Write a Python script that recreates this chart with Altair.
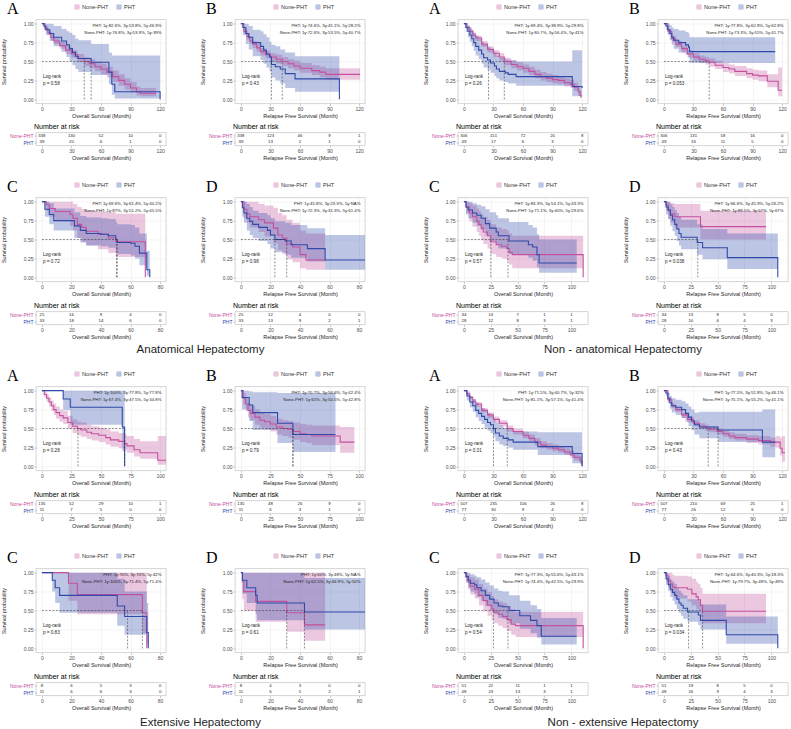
import altair as alt
import pandas as pd

FONT = "Liberation Sans"
SERIF = "Liberation Serif"
PINK = "#c4509e"
BLUE = "#2f4aa9"
TXT = "#1e1e1e"
GRID = "#e9e9e9"
BORDER = "#b8b8b8"
GROUPS = ["None-PHT", "PHT"]

# ---------------- survival curves: (month, survival, lower CI, upper CI) ----------------
# Anatomical Hepatectomy
Q1A_NON = [(0,1,1,1),(3,0.94,0.91,0.97),(6,0.88,0.85,0.92),(9,0.82,0.78,0.86),(12,0.77,0.73,0.81),(18,0.71,0.67,0.76),
           (24,0.65,0.60,0.70),(30,0.60,0.55,0.65),(36,0.54,0.49,0.60),(43,0.50,0.44,0.56),(48,0.47,0.41,0.53),(54,0.43,0.37,0.50),
           (60,0.40,0.33,0.47),(66,0.36,0.29,0.43),(72,0.30,0.23,0.38),(78,0.25,0.18,0.33),(84,0.20,0.13,0.28),(90,0.15,0.09,0.23),
           (96,0.10,0.05,0.17),(100,0.08,0.04,0.15),(116,0.08,0.04,0.15)]
Q1A_PHT = [(0,1,1,1),(2,0.97,0.92,1),(4,0.92,0.85,1),(8,0.87,0.77,1),(12,0.82,0.70,0.97),(20,0.77,0.63,0.93),(25,0.72,0.56,0.90),
           (28,0.67,0.50,0.88),(31,0.62,0.45,0.85),(34,0.57,0.40,0.80),(37,0.54,0.36,0.78),(50,0.49,0.32,0.73),(68,0.36,0.20,0.62),
           (71,0.20,0.06,0.58),(74,0.10,0.01,0.58),(120,0.0,0.01,0.58)]
Q1B_NON = [(0,1,1,1),(3,0.90,0.87,0.93),(6,0.83,0.79,0.87),(9,0.77,0.73,0.81),(12,0.73,0.68,0.77),(16,0.68,0.63,0.73),
           (20,0.63,0.58,0.68),(25,0.59,0.54,0.64),(30,0.56,0.50,0.61),(36,0.53,0.47,0.59),(42,0.50,0.44,0.56),(48,0.47,0.41,0.53),
           (54,0.44,0.38,0.51),(60,0.41,0.35,0.48),(72,0.38,0.32,0.45),(80,0.36,0.29,0.43),(86,0.33,0.26,0.41),(121,0.33,0.26,0.41)]
Q1B_PHT = [(0,1,1,1),(2,0.95,0.85,1),(5,0.87,0.73,1),(8,0.82,0.66,0.97),(12,0.75,0.57,0.92),(20,0.70,0.52,0.90),(23,0.65,0.47,0.86),
           (26,0.60,0.42,0.82),(29,0.56,0.37,0.76),(31,0.46,0.29,0.72),(35,0.43,0.25,0.70),(40,0.40,0.21,0.66),(45,0.34,0.15,0.62),
           (55,0.27,0.10,0.57),(100,0.0,0.10,0.57)]
Q1C_NON = [(0,1,1,1),(3,0.96,0.88,1),(5,0.91,0.80,1),(9,0.87,0.74,1),(19,0.83,0.68,1),(21,0.78,0.62,0.97),(24,0.70,0.52,0.93),
           (27,0.66,0.47,0.90),(30,0.61,0.42,0.88),(38,0.57,0.37,0.87),(45,0.52,0.32,0.86),(50,0.47,0.27,0.84),(70,0.0,0.27,0.84)]
Q1C_PHT = [(0,1,1,1),(2,0.90,0.80,1),(5,0.83,0.70,0.98),(8,0.75,0.62,0.91),(22,0.68,0.52,0.86),(26,0.62,0.46,0.81),(30,0.58,0.42,0.79),
           (40,0.57,0.41,0.78),(45,0.55,0.39,0.77),(50,0.50,0.34,0.73),(51,0.46,0.31,0.70),(60,0.45,0.29,0.69),(63,0.41,0.25,0.66),
           (66,0.32,0.16,0.58),(71,0.10,0.02,0.35),(73,0.0,0.02,0.35)]
Q1D_NON = [(0,1,1,1),(2,0.90,0.78,1),(4,0.84,0.72,1),(6,0.80,0.66,1),(12,0.76,0.60,0.97),(16,0.72,0.54,0.95),(22,0.65,0.45,0.92),
           (25,0.56,0.36,0.85),(28,0.52,0.31,0.82),(31,0.44,0.24,0.76),(35,0.40,0.20,0.72),(40,0.30,0.12,0.62),(44,0.23,0.10,0.58),
           (57,0.23,0.10,0.58)]
Q1D_PHT = [(0,1,1,1),(1,0.92,0.80,1),(2,0.85,0.72,1),(4,0.78,0.62,0.97),(6,0.74,0.56,0.93),(8,0.70,0.52,0.88),(12,0.66,0.48,0.85),
           (18,0.62,0.44,0.82),(20,0.56,0.38,0.78),(23,0.50,0.33,0.74),(30,0.48,0.30,0.72),(34,0.43,0.26,0.69),(45,0.38,0.21,0.65),
           (57,0.23,0.10,0.56),(84,0.23,0.10,0.56)]
# Non - anatomical Hepatectomy
Q2A_NON = [(0,1,1,1),(3,0.95,0.93,0.97),(6,0.90,0.87,0.93),(9,0.85,0.82,0.88),(12,0.81,0.77,0.84),(18,0.73,0.69,0.77),
           (24,0.66,0.62,0.70),(30,0.61,0.56,0.65),(36,0.56,0.51,0.61),(41,0.50,0.45,0.55),(48,0.46,0.41,0.51),(54,0.43,0.38,0.49),
           (60,0.41,0.35,0.46),(66,0.37,0.32,0.43),(72,0.33,0.28,0.39),(78,0.30,0.25,0.36),(84,0.28,0.23,0.34),(90,0.26,0.21,0.32),
           (96,0.25,0.20,0.31),(102,0.22,0.17,0.28),(108,0.20,0.15,0.26),(112,0.16,0.11,0.22),(116,0.10,0.05,0.17),
           (118,0.05,0.02,0.12),(119,0.02,0.0,0.08)]
Q2A_PHT = [(0,1,1,1),(2,0.95,0.89,1),(4,0.90,0.82,0.98),(6,0.85,0.76,0.95),(8,0.80,0.70,0.91),(10,0.75,0.64,0.88),(12,0.70,0.58,0.84),
           (15,0.65,0.53,0.80),(18,0.60,0.47,0.76),(20,0.55,0.42,0.72),(24,0.52,0.39,0.69),(27,0.48,0.35,0.66),(31,0.44,0.31,0.62),
           (33,0.40,0.28,0.58),(36,0.37,0.25,0.55),(42,0.35,0.23,0.53),(45,0.33,0.21,0.52),(53,0.30,0.18,0.50),(110,0.17,0.04,0.65),
           (120,0.15,0.03,0.65)]
Q2B_NON = [(0,1,1,1),(4,0.90,0.87,0.93),(8,0.80,0.76,0.84),(12,0.73,0.69,0.77),(18,0.67,0.62,0.71),(24,0.60,0.55,0.65),
           (30,0.56,0.51,0.61),(36,0.53,0.48,0.58),(42,0.51,0.46,0.56),(46,0.49,0.43,0.54),(52,0.45,0.40,0.51),(60,0.42,0.36,0.48),
           (66,0.40,0.34,0.46),(72,0.37,0.31,0.44),(84,0.34,0.28,0.41),(90,0.32,0.26,0.39),(96,0.31,0.24,0.38),(105,0.24,0.16,0.33),
           (116,0.12,0.04,0.42),(120,0.12,0.04,0.42)]
Q2B_PHT = [(0,1,1,1),(2,0.97,0.92,1),(4,0.92,0.85,1),(6,0.87,0.78,0.98),(8,0.82,0.72,0.95),(10,0.78,0.67,0.93),(15,0.75,0.62,0.91),
           (22,0.72,0.59,0.89),(25,0.69,0.56,0.87),(26,0.63,0.48,0.82),(113,0.63,0.48,0.82)]
Q2C_NON = [(0,1,1,1),(2,0.93,0.85,1),(5,0.85,0.74,0.98),(8,0.80,0.67,0.95),(12,0.74,0.60,0.91),(14,0.70,0.55,0.88),(16,0.65,0.49,0.84),
           (18,0.60,0.44,0.80),(22,0.55,0.38,0.76),(25,0.47,0.31,0.70),(30,0.43,0.27,0.66),(35,0.41,0.25,0.64),(40,0.38,0.22,0.62),
           (42,0.33,0.17,0.58),(45,0.30,0.12,0.55),(111,0.0,0.12,0.55)]
Q2C_PHT = [(0,1,1,1),(2,0.93,0.83,1),(4,0.89,0.78,1),(8,0.85,0.72,0.98),(12,0.82,0.68,0.96),(16,0.78,0.63,0.94),(20,0.71,0.55,0.90),
           (24,0.65,0.48,0.86),(30,0.60,0.43,0.82),(32,0.55,0.38,0.78),(42,0.48,0.31,0.73),(60,0.43,0.26,0.69),(64,0.40,0.22,0.66),
           (68,0.30,0.13,0.57),(70,0.19,0.06,0.50),(105,0.19,0.06,0.50)]
Q2D_NON = [(0,1,1,1),(2,0.96,0.88,1),(4,0.88,0.77,1),(6,0.84,0.72,0.98),(10,0.80,0.66,0.97),(34,0.67,0.50,0.88),(95,0.67,0.50,0.88)]
Q2D_PHT = [(0,1,1,1),(2,0.93,0.83,1),(4,0.89,0.77,1),(6,0.82,0.68,0.97),(8,0.76,0.61,0.93),(10,0.70,0.55,0.89),(12,0.64,0.48,0.85),
           (14,0.58,0.42,0.80),(16,0.53,0.37,0.76),(31,0.46,0.30,0.70),(36,0.39,0.24,0.64),(59,0.26,0.11,0.58),(106,0.0,0.11,0.58)]
# Extensive Hepatectomy
Q3A_NON = [(0,1,1,1),(2,0.95,0.91,0.99),(4,0.90,0.85,0.95),(6,0.85,0.79,0.91),(8,0.80,0.73,0.87),(10,0.75,0.68,0.83),(12,0.71,0.63,0.79),
           (15,0.67,0.59,0.75),(18,0.64,0.56,0.73),(22,0.58,0.50,0.67),(26,0.53,0.44,0.62),(30,0.50,0.41,0.59),(33,0.48,0.39,0.58),
           (38,0.45,0.36,0.55),(42,0.43,0.34,0.53),(48,0.41,0.32,0.51),(54,0.38,0.29,0.49),(58,0.35,0.26,0.46),(65,0.33,0.24,0.44),
           (70,0.30,0.21,0.42),(72,0.27,0.18,0.40),(78,0.22,0.13,0.36),(83,0.18,0.10,0.33),(98,0.08,0.02,0.40),(105,0.08,0.02,0.40)]
Q3A_PHT = [(0,1,1,1),(18,0.89,0.74,1),(24,0.78,0.55,1),(68,0.52,0.20,1),(70,0.0,0.20,1)]
Q3B_NON = [(0,1,1,1),(2,0.90,0.82,0.97),(4,0.82,0.73,0.90),(6,0.74,0.65,0.84),(8,0.70,0.61,0.80),(12,0.65,0.55,0.75),(16,0.61,0.51,0.71),
           (20,0.59,0.49,0.69),(25,0.56,0.46,0.67),(30,0.52,0.42,0.63),(35,0.50,0.40,0.61),(40,0.49,0.38,0.60),(44,0.46,0.35,0.58),
           (50,0.43,0.32,0.56),(55,0.42,0.31,0.55),(60,0.40,0.28,0.54),(84,0.32,0.18,0.52),(96,0.32,0.18,0.52)]
Q3B_PHT = [(0,1,1,1),(1,0.91,0.75,1),(7,0.81,0.60,0.99),(10,0.71,0.48,0.98),(31,0.57,0.31,0.97),(44,0.42,0.19,0.97),(80,0.42,0.19,0.97)]
Q3C_NON = [(0,1,1,1),(18,0.86,0.63,1),(24,0.71,0.45,1),(68,0.47,0.20,1),(71,0.0,0.20,1)]
Q3C_PHT = [(0,1,1,1),(7,0.90,0.75,1),(9,0.80,0.60,1),(12,0.70,0.47,1),(51,0.56,0.30,0.92),(56,0.42,0.18,0.75),(71,0.21,0.05,0.60),
           (72,0.0,0.05,0.60)]
Q3D_NON = [(0,1,1,1),(1,0.88,0.65,1),(2,0.75,0.50,1),(10,0.62,0.35,1),(31,0.47,0.22,1),(43,0.31,0.10,1),(57,0.31,0.10,1)]
Q3D_PHT = [(0,1,1,1),(1,0.90,0.72,1),(4,0.80,0.60,1),(10,0.70,0.45,1),(11,0.60,0.37,1),(43,0.48,0.25,0.93),(84,0.48,0.25,0.93)]
# Non - extensive Hepatectomy
Q4A_NON = [(0,1,1,1),(3,0.96,0.94,0.97),(6,0.91,0.89,0.93),(9,0.86,0.84,0.89),(12,0.82,0.79,0.85),(18,0.74,0.71,0.77),
           (24,0.68,0.64,0.71),(30,0.62,0.58,0.66),(36,0.57,0.53,0.61),(44,0.50,0.46,0.54),(50,0.46,0.42,0.50),(60,0.41,0.37,0.46),
           (66,0.37,0.33,0.42),(72,0.32,0.28,0.37),(78,0.28,0.24,0.33),(84,0.26,0.22,0.31),(90,0.24,0.20,0.29),(96,0.22,0.18,0.27),
           (102,0.19,0.15,0.24),(108,0.15,0.11,0.21),(112,0.12,0.08,0.18),(118,0.07,0.03,0.14),(120,0.0,0.0,0.10)]
Q4A_PHT = [(0,1,1,1),(3,0.93,0.87,0.99),(6,0.85,0.78,0.93),(9,0.80,0.72,0.89),(12,0.74,0.65,0.84),(15,0.70,0.60,0.80),
           (18,0.66,0.56,0.77),(21,0.62,0.51,0.74),(24,0.58,0.47,0.70),(27,0.55,0.44,0.67),(30,0.50,0.39,0.63),(32,0.44,0.33,0.58),
           (36,0.40,0.29,0.54),(40,0.37,0.27,0.51),(45,0.35,0.25,0.49),(50,0.32,0.22,0.46),(75,0.26,0.15,0.45),(110,0.17,0.04,0.45),
           (120,0.0,0.04,0.45)]
Q4B_NON = [(0,1,1,1),(4,0.88,0.86,0.91),(8,0.80,0.77,0.83),(12,0.75,0.72,0.78),(18,0.68,0.64,0.71),(24,0.62,0.58,0.66),
           (30,0.57,0.53,0.61),(36,0.53,0.49,0.57),(42,0.51,0.47,0.55),(46,0.49,0.45,0.53),(54,0.46,0.42,0.50),(60,0.43,0.39,0.48),
           (66,0.40,0.36,0.45),(72,0.38,0.34,0.43),(84,0.36,0.31,0.41),(96,0.34,0.29,0.40),(108,0.32,0.26,0.38),(114,0.32,0.25,0.40),
           (118,0.24,0.14,0.38),(120,0.18,0.06,0.40),(123,0.18,0.06,0.40)]
Q4B_PHT = [(0,1,1,1),(2,0.97,0.93,1),(4,0.90,0.84,0.97),(6,0.84,0.76,0.93),(8,0.80,0.71,0.90),(12,0.78,0.68,0.88),(18,0.75,0.64,0.86),
           (22,0.70,0.59,0.83),(25,0.65,0.53,0.79),(28,0.60,0.48,0.75),(31,0.55,0.42,0.71),(36,0.52,0.37,0.72),(55,0.48,0.32,0.72),
           (100,0.32,0.12,0.75),(113,0.32,0.12,0.75)]
Q4C_NON = [(0,1,1,1),(2,0.94,0.87,1),(4,0.87,0.78,0.97),(6,0.82,0.71,0.94),(10,0.78,0.66,0.91),(14,0.70,0.57,0.85),(18,0.63,0.49,0.79),
           (22,0.57,0.43,0.74),(26,0.52,0.37,0.69),(28,0.48,0.33,0.65),(32,0.45,0.30,0.62),(36,0.42,0.27,0.60),(40,0.38,0.23,0.56),
           (44,0.32,0.18,0.52),(48,0.30,0.15,0.48),(111,0.0,0.15,0.48)]
Q4C_PHT = [(0,1,1,1),(2,0.95,0.88,1),(4,0.90,0.80,1),(6,0.86,0.75,0.98),(10,0.84,0.72,0.96),(12,0.80,0.68,0.94),(16,0.76,0.63,0.91),
           (20,0.70,0.56,0.87),(24,0.65,0.50,0.83),(28,0.60,0.45,0.79),(32,0.56,0.40,0.76),(36,0.55,0.39,0.75),(42,0.50,0.33,0.70),
           (52,0.43,0.26,0.63),(62,0.37,0.20,0.57),(68,0.30,0.14,0.52),(72,0.16,0.05,0.40),(105,0.16,0.05,0.40)]
Q4D_NON = [(0,1,1,1),(2,0.96,0.88,1),(4,0.90,0.80,1),(6,0.85,0.74,1),(8,0.81,0.70,0.97),(10,0.80,0.66,0.96),(22,0.78,0.62,0.95),
           (26,0.72,0.57,0.92),(30,0.68,0.52,0.88),(32,0.64,0.47,0.85),(34,0.57,0.40,0.80),(36,0.49,0.33,0.72),(95,0.49,0.33,0.72)]
Q4D_PHT = [(0,1,1,1),(2,0.92,0.84,1),(4,0.84,0.76,0.96),(6,0.78,0.68,0.91),(8,0.74,0.63,0.88),(10,0.70,0.58,0.85),(12,0.65,0.52,0.80),
           (14,0.60,0.47,0.76),(16,0.57,0.43,0.73),(18,0.53,0.39,0.70),(22,0.48,0.35,0.65),(32,0.44,0.31,0.62),(34,0.37,0.25,0.58),
           (58,0.18,0.06,0.42),(106,0.0,0.06,0.42)]

# ---------------- medians (None-PHT, PHT) ----------------
Q1A_MED = (43, 50); Q1B_MED = (42, 31); Q1C_MED = (50.5, 51); Q1D_MED = (31, 23)
Q2A_MED = (41, 25); Q2B_MED = (46, None); Q2C_MED = (25, 41); Q2D_MED = (None, 31.5)
Q3A_MED = (30.5, 70); Q3B_MED = (44, 44); Q3C_MED = (68, 58); Q3D_MED = (31, 43)
Q4A_MED = (44, 30); Q4B_MED = (45, 55); Q4C_MED = (27.5, 41); Q4D_MED = (36, 23)

# ---------------- annotation texts ----------------
Q1A_ANN = ("PHT: 1y:82.6%, 3y:53.8%, 5y:46.9%", "None-PHT: 1y:76.8%, 3y:53.9%, 5y:39%", "p = 0.58")
Q1B_ANN = ("PHT: 1y:74.6%, 3y:41.1%, 5y:28.2%", "None-PHT: 1y:72.6%, 3y:53.5%, 5y:40.7%", "p = 0.43")
Q1C_ANN = ("PHT: 1y:69.6%, 3y:61.4%, 5y:40.2%", "None-PHT: 1y:87%, 3y:51.2%, 5y:45.5%", "p = 0.72")
Q1D_ANN = ("PHT: 1y:45.8%, 3y:23.3%, 5y:NA%", "None-PHT: 1y:72.3%, 3y:31.3%, 5y:61.4%", "p = 0.98")
Q2A_ANN = ("PHT: 1y:69.4%, 3y:38.9%, 5y:29.8%", "None-PHT: 1y:80.7%, 3y:56.4%, 5y:41%", "p = 0.26")
Q2B_ANN = ("PHT: 1y:77.8%, 3y:62.8%, 5y:62.8%", "None-PHT: 1y:73.3%, 3y:55%, 5y:41.7%", "p = 0.053")
Q2C_ANN = ("PHT: 1y:83.3%, 3y:54.1%, 5y:43.3%", "None-PHT: 1y:71.1%, 3y:40%, 5y:29.6%", "p = 0.57")
Q2D_ANN = ("PHT: 1y:66.6%, 3y:45.9%, 5y:26.2%", "None-PHT: 1y:88.5%, 3y:67%, 5y:67%", "p = 0.038")
Q3A_ANN = ("PHT: 1y:100%, 3y:77.8%, 5y:77.8%", "None-PHT: 1y:67.4%, 3y:47.5%, 5y:34.8%", "p = 0.28")
Q3B_ANN = ("PHT: 1y:70.7%, 3y:56.6%, 5y:42.4%", "None-PHT: 1y:65%, 3y:50.5%, 5y:42.8%", "p = 0.79")
Q3C_ANN = ("PHT: 1y:70%, 3y:70%, 5y:42%", "None-PHT: 1y:100%, 3y:71.4%, 5y:71.4%", "p = 0.83")
Q3D_ANN = ("PHT: 1y:60%, 3y:48%, 5y:NA%", "None-PHT: 1y:62.5%, 3y:46.9%, 5y:50%", "p = 0.61")
Q4A_ANN = ("PHT: 1y:71.5%, 3y:40.7%, 5y:32%", "None-PHT: 1y:81.1%, 3y:57.1%, 5y:41.4%", "p = 0.31")
Q4B_ANN = ("PHT: 1y:77.5%, 3y:51.8%, 5y:46.1%", "None-PHT: 1y:75.1%, 3y:55.2%, 5y:41.1%", "p = 0.43")
Q4C_ANN = ("PHT: 1y:77.3%, 3y:55.6%, 5y:43.1%", "None-PHT: 1y:74.4%, 3y:42.5%, 5y:29.9%", "p = 0.54")
Q4D_ANN = ("PHT: 1y:64.6%, 3y:40.3%, 5y:18.3%", "None-PHT: 1y:79.7%, 3y:49%, 5y:49%", "p = 0.034")

# ---------------- number at risk (None-PHT, PHT) ----------------
Q1A_RISK = ([338, 130, 52, 10, 0], [39, 20, 6, 1, 0])
Q1B_RISK = ([338, 123, 46, 9, 1], [39, 13, 2, 1, 0])
Q1C_RISK = ([25, 16, 9, 4, 0], [33, 18, 14, 6, 0])
Q1D_RISK = ([25, 12, 4, 0, 0], [33, 13, 9, 2, 1])
Q2A_RISK = ([306, 151, 72, 20, 8], [49, 17, 6, 3, 0])
Q2B_RISK = ([306, 131, 58, 16, 0], [49, 16, 11, 5, 0])
Q2C_RISK = ([34, 14, 7, 1, 1], [28, 12, 8, 3, 1])
Q2D_RISK = ([34, 13, 8, 5, 0], [28, 10, 6, 4, 3])
Q3A_RISK = ([135, 52, 29, 10, 1], [11, 7, 5, 0, 0])
Q3B_RISK = ([135, 48, 26, 9, 0], [11, 6, 3, 1, 0])
Q3C_RISK = ([8, 6, 5, 3, 0], [11, 6, 6, 3, 0])
Q3D_RISK = ([8, 4, 3, 0, 0], [11, 6, 5, 2, 1])
Q4A_RISK = ([507, 235, 106, 26, 8], [77, 30, 9, 4, 0])
Q4B_RISK = ([507, 210, 69, 25, 1], [77, 26, 12, 6, 0])
Q4C_RISK = ([51, 22, 11, 1, 1], [48, 23, 13, 3, 1])
Q4D_RISK = ([51, 19, 8, 5, 0], [48, 16, 9, 4, 3])

TICKS = {120: [0, 30, 60, 90, 120], 110: [0, 25, 50, 75, 100], 100: [0, 25, 50, 75, 100], 80: [0, 20, 40, 60, 80]}
OS = "Overall Survival (Month)"
RFS = "Relapse Free Survival (Month)"

# grid of panels: rows of [left-A, left-B, right-A, right-B]
PANELS = [
    [("A", 120, OS, Q1A_NON, Q1A_PHT, Q1A_MED, Q1A_ANN, Q1A_RISK), ("B", 120, RFS, Q1B_NON, Q1B_PHT, Q1B_MED, Q1B_ANN, Q1B_RISK),
     ("A", 120, OS, Q2A_NON, Q2A_PHT, Q2A_MED, Q2A_ANN, Q2A_RISK), ("B", 120, RFS, Q2B_NON, Q2B_PHT, Q2B_MED, Q2B_ANN, Q2B_RISK)],
    [("C", 80, OS, Q1C_NON, Q1C_PHT, Q1C_MED, Q1C_ANN, Q1C_RISK), ("D", 80, RFS, Q1D_NON, Q1D_PHT, Q1D_MED, Q1D_ANN, Q1D_RISK),
     ("C", 110, OS, Q2C_NON, Q2C_PHT, Q2C_MED, Q2C_ANN, Q2C_RISK), ("D", 110, RFS, Q2D_NON, Q2D_PHT, Q2D_MED, Q2D_ANN, Q2D_RISK)],
    [("A", 100, OS, Q3A_NON, Q3A_PHT, Q3A_MED, Q3A_ANN, Q3A_RISK), ("B", 100, RFS, Q3B_NON, Q3B_PHT, Q3B_MED, Q3B_ANN, Q3B_RISK),
     ("A", 120, OS, Q4A_NON, Q4A_PHT, Q4A_MED, Q4A_ANN, Q4A_RISK), ("B", 120, RFS, Q4B_NON, Q4B_PHT, Q4B_MED, Q4B_ANN, Q4B_RISK)],
    [("C", 80, OS, Q3C_NON, Q3C_PHT, Q3C_MED, Q3C_ANN, Q3C_RISK), ("D", 80, RFS, Q3D_NON, Q3D_PHT, Q3D_MED, Q3D_ANN, Q3D_RISK),
     ("C", 110, OS, Q4C_NON, Q4C_PHT, Q4C_MED, Q4C_ANN, Q4C_RISK), ("D", 110, RFS, Q4D_NON, Q4D_PHT, Q4D_MED, Q4D_ANN, Q4D_RISK)],
]
TITLES = [("Anatomical Hepatectomy", "Non - anatomical Hepatectomy"), ("Extensive Hepatectomy", "Non - extensive Hepatectomy")]

W, H, RH = 130, 84, 13
COLW = [W, 69, W, 93, W, 70, W]
ROWS = [("km", 0, H), ("gap", None, 29), ("risk", 0, RH), ("gap", None, 52),
        ("km", 1, H), ("gap", None, 30), ("risk", 1, RH), ("title", 0, 62),
        ("km", 2, H), ("gap", None, 30), ("risk", 2, RH), ("gap", None, 55),
        ("km", 3, H), ("gap", None, 30), ("risk", 3, RH), ("title", 1, 30)]

AXC = dict(labelFont=FONT, titleFont=FONT, labelFontSize=5, titleFontSize=5.5, titleColor=TXT,
           tickColor="#9a9a9a", tickSize=2, tickWidth=0.5, domain=False, labelPadding=1,
           titleFontWeight="normal", labelFlush=False)
CSCALE = alt.Scale(domain=GROUPS, range=[PINK, BLUE])
NOSTROKE = alt.ViewBackground(strokeOpacity=0, strokeWidth=0)
BOX = alt.ViewBackground(stroke=BORDER, strokeWidth=0.6)


def text_layer(s, x, y, size, align="left", font=FONT, color=TXT, baseline="middle"):
    return alt.Chart(pd.DataFrame({"v": [s]})).mark_text(
        align=align, baseline=baseline, fontSize=size, font=font, color=color
    ).encode(text="v:N", x=alt.value(x), y=alt.value(y))


def km_chart(letter, xmax, xtitle, non, pht, med, ann):
    rows = []
    for g, cur in zip(GROUPS, (non, pht)):
        for t, s, lo, hi in cur:
            rows.append({"group": g, "t": t, "s": s, "lo": lo, "hi": hi})
    df = pd.DataFrame(rows)
    xs = alt.Scale(domain=[-0.05 * xmax, 1.05 * xmax], nice=False, zero=False)
    ys = alt.Scale(domain=[-0.055, 1.055], nice=False, zero=False)
    xax = alt.Axis(values=TICKS[xmax], title=xtitle, titlePadding=1.5, grid=True, gridColor=GRID,
                   gridWidth=0.5, labelColor="#4d4d4d", **AXC)
    yax = alt.Axis(values=[0, 0.25, 0.5, 0.75, 1], format=".2f", title="Survival probability",
                   titlePadding=16.5, grid=True, gridColor=GRID, gridWidth=0.5, labelColor="#4d4d4d", **AXC)
    leg = alt.Legend(orient="none", legendX=W / 2 - 27, legendY=-15.5, direction="horizontal", title=None,
                     labelFont=FONT, labelFontSize=5.6, labelColor="#333333", symbolType="square",
                     symbolSize=18, symbolStrokeWidth=1, columnPadding=5, labelOffset=2, padding=0,
                     gridAlign="none")
    base = alt.Chart(df)
    band = base.mark_area(interpolate="step-after", opacity=0.32, clip=True).encode(
        x=alt.X("t:Q", scale=xs, axis=xax),
        y=alt.Y("lo:Q", scale=ys, axis=yax, stack=None),
        y2="hi:Q",
        color=alt.Color("group:N", scale=CSCALE, legend=leg),
    )
    line = base.mark_line(interpolate="step-after", strokeWidth=1.1, clip=True).encode(
        x=alt.X("t:Q", scale=xs, axis=xax),
        y=alt.Y("s:Q", scale=ys, axis=yax),
        color=alt.Color("group:N", scale=CSCALE, legend=leg),
    )
    layers = [band, line]
    meds = [m for m in med if m is not None]
    if meds:
        hdf = pd.DataFrame({"x0": [0], "x1": [max(meds)], "y": [0.5]})
        layers.append(alt.Chart(hdf).mark_rule(strokeDash=[2, 1.5], strokeWidth=0.55, color="#333333").encode(
            x=alt.X("x0:Q", scale=xs, axis=xax), x2="x1:Q", y=alt.Y("y:Q", scale=ys, axis=yax)))
        vdf = pd.DataFrame({"m": meds, "y0": [0.0] * len(meds), "y1": [0.5] * len(meds)})
        layers.append(alt.Chart(vdf).mark_rule(strokeDash=[2, 1.5], strokeWidth=0.55, color="#333333").encode(
            x=alt.X("m:Q", scale=xs, axis=xax), y=alt.Y("y0:Q", scale=ys, axis=yax), y2="y1:Q"))
    layers.append(text_layer(letter, -29, -18.5, 16, font=SERIF, color="black", baseline="top"))
    layers.append(text_layer(ann[0], W - 4.5, 6.7, 4.3, align="right"))
    layers.append(text_layer(ann[1], W - 4.5, 13.7, 4.3, align="right"))
    layers.append(text_layer("Log-rank", 7, 57, 4.6))
    layers.append(text_layer(ann[2], 7, 64, 4.6))
    return alt.layer(*layers).properties(width=W, height=H, view=BOX)


def risk_chart(xmax, xtitle, risk):
    ticks = TICKS[xmax]
    rows = []
    for g, vals in zip(GROUPS, risk):
        for t, n in zip(ticks, vals):
            rows.append({"group": g, "t": t, "n": n})
    df = pd.DataFrame(rows)
    xs = alt.Scale(domain=[-0.05 * xmax, 1.05 * xmax], nice=False, zero=False)
    ycol = {"condition": {"test": "datum.value === 'PHT'", "value": BLUE}, "value": PINK}
    return alt.Chart(df).mark_text(fontSize=4.3, font=FONT, color=TXT).encode(
        x=alt.X("t:Q", scale=xs, axis=alt.Axis(values=ticks, title=xtitle, titlePadding=1.5, grid=False,
                                               labelColor="#4d4d4d", **AXC)),
        y=alt.Y("group:N", scale=alt.Scale(domain=GROUPS, padding=0.5),
                axis=alt.Axis(title=None, grid=False, labelColor=ycol, **AXC)),
        text="n:Q",
    ).properties(width=W, height=RH, view=BOX,
                 title=alt.TitleParams("Number at risk", anchor="start", frame="group", fontSize=7, font=FONT,
                                       fontWeight="normal", color="black", offset=3, dx=-2))


def spacer(w, h, text=None, ty=0):
    if text:
        c = text_layer(text, w / 2, ty, 11.5, align="center", color=TXT)
    else:
        c = alt.Chart(pd.DataFrame({"v": [0]})).mark_point(opacity=0, size=1).encode(
            x=alt.value(0), y=alt.value(0))
    return c.properties(width=w, height=h, view=NOSTROKE)


cells = []
for kind, idx, rh in ROWS:
    for ci, cw in enumerate(COLW):
        content = ci % 2 == 0
        if kind in ("km", "risk") and content:
            letter, xmax, xtitle, non, pht, med, ann, risk = PANELS[idx][ci // 2]
            if kind == "km":
                cells.append(km_chart(letter, xmax, xtitle, non, pht, med, ann))
            else:
                cells.append(risk_chart(xmax, xtitle, risk))
        elif kind == "title" and ci in (1, 5):
            t = TITLES[idx][0 if ci == 1 else 1]
            cells.append(spacer(cw, rh, t, 25 if idx == 0 else 27))
        else:
            cells.append(spacer(cw if not content else 1, rh if kind in ("gap", "title") else 1))

chart = alt.concat(*cells, columns=7, spacing=0, bounds="flush", align="each").resolve_scale(
    color="independent"
).properties(
    padding={"left": 1, "top": 0.5, "right": 0, "bottom": 0}
).configure_view(strokeWidth=0)

chart.save("out.html", embed_options={"renderer": "svg", "actions": False})
